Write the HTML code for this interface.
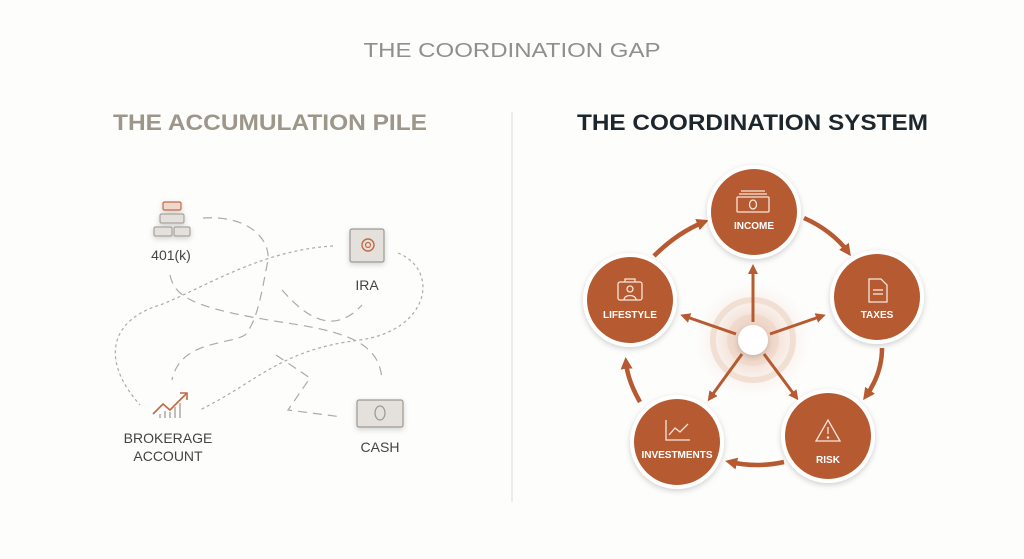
<!DOCTYPE html>
<html><head><meta charset="utf-8"><style>
html,body{margin:0;padding:0;background:#fdfdfc;}
svg{display:block;}
text{font-family:"Liberation Sans",sans-serif;}
</style></head><body>
<svg width="1024" height="559" viewBox="0 0 1024 559" xmlns="http://www.w3.org/2000/svg">
<defs>
<marker id="ah" markerWidth="10" markerHeight="10" refX="6" refY="5" orient="auto" markerUnits="userSpaceOnUse">
<path d="M0,0 L10,5 L0,10 Z" fill="#b65a31"/></marker>
<marker id="ah2" markerWidth="12" markerHeight="12" refX="7" refY="6" orient="auto" markerUnits="userSpaceOnUse">
<path d="M0,0 L12,6 L0,12 Z" fill="#b65a31"/></marker>
<radialGradient id="glow"><stop offset="0.3" stop-color="#efd6c8" stop-opacity="0.9"/><stop offset="1" stop-color="#f8ece5" stop-opacity="0"/></radialGradient>
<filter id="sh" x="-30%" y="-30%" width="160%" height="160%"><feDropShadow dx="0" dy="2" stdDeviation="3" flood-color="#000" flood-opacity="0.18"/></filter>
</defs>
<rect width="1024" height="559" fill="#fdfdfc"/>
<text x="512" y="57" text-anchor="middle" font-size="20" fill="#8f8f8f" textLength="297" lengthAdjust="spacingAndGlyphs">THE COORDINATION GAP</text>
<text x="113" y="130" font-size="22" font-weight="bold" fill="#9d968a" textLength="314" lengthAdjust="spacingAndGlyphs">THE ACCUMULATION PILE</text>
<text x="577" y="130" font-size="22" font-weight="bold" fill="#1d262c" textLength="351" lengthAdjust="spacingAndGlyphs">THE COORDINATION SYSTEM</text>
<line x1="512" y1="112" x2="512" y2="502" stroke="#e6e6e6" stroke-width="1.5"/>

<g fill="none" stroke="#ababab" stroke-width="1.2">
<path d="M203,218 C250,215 270,240 268,260 C262,290 258,320 245,335 C230,345 180,340 172,380" stroke-dasharray="9,6"/>
<path d="M170,275 C175,300 200,310 300,325 C360,335 380,350 382,380" stroke-dasharray="9,6"/>
<path d="M282,290 C300,310 330,340 362,305" stroke-dasharray="9,6"/>
<path d="M276,355 L310,378 L288,410 L342,417" stroke-dasharray="9,6"/>
<path d="M333,246 C260,250 200,290 160,305 C110,320 100,360 140,405" stroke-dasharray="3,3"/>
<path d="M398,253 C440,270 430,330 360,340 C280,350 260,380 200,410" stroke-dasharray="3,3"/>
</g>
<g filter="url(#sh)">
<rect x="163" y="202" width="18" height="8" rx="1.5" fill="#efd8cc" stroke="#c06a44" stroke-width="1.2"/>
<rect x="160" y="214" width="24" height="9" rx="1.5" fill="#e4e0dc" stroke="#a8a29c" stroke-width="1.2"/>
<rect x="154" y="227" width="18" height="9" rx="1.5" fill="#e4e0dc" stroke="#a8a29c" stroke-width="1.2"/>
<rect x="174" y="227" width="16" height="9" rx="1.5" fill="#e4e0dc" stroke="#a8a29c" stroke-width="1.2"/>
</g>
<text x="171" y="260" text-anchor="middle" font-size="14" fill="#444">401(k)</text>
<g filter="url(#sh)">
<rect x="350" y="229" width="34" height="33" rx="2" fill="#e4e0dc" stroke="#9e9892" stroke-width="1.2"/>
<circle cx="368" cy="245" r="6" fill="none" stroke="#c06a44" stroke-width="1.4"/>
<circle cx="368" cy="245" r="2.5" fill="none" stroke="#c06a44" stroke-width="1.2"/>
</g>
<text x="367" y="290" text-anchor="middle" font-size="14" fill="#444">IRA</text>
<polyline points="153,414 163,404 170,410 186,394" fill="none" stroke="#c06a44" stroke-width="1.6"/>
<path d="M180,393 L187,393 L187,400" fill="none" stroke="#c06a44" stroke-width="1.6"/>
<g stroke="#a8a29c" stroke-width="1.4"><line x1="160" y1="418" x2="160" y2="414"/><line x1="165" y1="418" x2="165" y2="411"/><line x1="170" y1="418" x2="170" y2="412"/><line x1="175" y1="418" x2="175" y2="407"/><line x1="180" y1="418" x2="180" y2="403"/></g>
<text x="168" y="443" text-anchor="middle" font-size="14" fill="#444">BROKERAGE</text>
<text x="168" y="461" text-anchor="middle" font-size="14" fill="#444">ACCOUNT</text>
<g filter="url(#sh)">
<rect x="357" y="400" width="46" height="27" rx="2" fill="#e4e0dc" stroke="#9e9892" stroke-width="1.2"/>
<ellipse cx="380" cy="413" rx="5" ry="7" fill="none" stroke="#9e9892" stroke-width="1.2"/>
</g>
<text x="380" y="452" text-anchor="middle" font-size="14" fill="#444">CASH</text>

<circle cx="753" cy="340" r="58" fill="url(#glow)"/>
<circle cx="753" cy="340" r="40" fill="none" stroke="#f1dfd4" stroke-width="6"/>
<circle cx="753" cy="340" r="26" fill="#ecd3c5" opacity="0.6"/>
<g stroke="#b65a31" stroke-width="3" marker-end="url(#ah)">
<line x1="753" y1="322" x2="753" y2="268"/>
<line x1="770" y1="334" x2="822" y2="316"/>
<line x1="764" y1="354" x2="796" y2="397"/>
<line x1="742" y1="354" x2="710" y2="398"/>
<line x1="736" y1="334" x2="684" y2="316"/>
</g>
<circle cx="753" cy="340" r="15" fill="#fff" filter="url(#sh)"/>
<g fill="none" stroke="#b65a31" stroke-width="4.5" marker-end="url(#ah2)">
<path d="M804,218 C822,226 838,238 848,252"/>
<path d="M882,348 C882,366 876,382 866,396"/>
<path d="M784,462 C766,466 748,466 730,462"/>
<path d="M640,402 C632,388 627,374 626,362"/>
<path d="M654,256 C668,242 684,230 704,222"/>
</g>
<g filter="url(#sh)">
<circle cx="754" cy="212" r="47" fill="#fff"/>
<circle cx="877" cy="297" r="47" fill="#fff"/>
<circle cx="828" cy="436" r="47" fill="#fff"/>
<circle cx="677" cy="442" r="47" fill="#fff"/>
<circle cx="630" cy="300" r="47" fill="#fff"/>
</g>
<g fill="#b65a31">
<circle cx="754" cy="212" r="43"/>
<circle cx="877" cy="297" r="43"/>
<circle cx="828" cy="436" r="43"/>
<circle cx="677" cy="442" r="43"/>
<circle cx="630" cy="300" r="43"/>
</g>
<g fill="none" stroke="#f6e6dc" stroke-width="1.3">
<rect x="737" y="197" width="32" height="15" rx="1"/>
<line x1="739" y1="194" x2="767" y2="194"/><line x1="741" y1="191" x2="765" y2="191"/>
<ellipse cx="753" cy="204.5" rx="3.5" ry="4.5"/>
<path d="M869,279 h12 l6,6 v17 h-18 z"/><line x1="873" y1="290" x2="883" y2="290"/><line x1="873" y1="294" x2="883" y2="294"/>
<path d="M828,420 L840,441 L816,441 Z"/><line x1="828" y1="427" x2="828" y2="434"/><circle cx="828" cy="437.5" r="0.6"/>
<path d="M666,420 v20 h24"/><polyline points="669,435 675,428 680,432 688,424"/>
<rect x="618" y="282" width="24" height="18" rx="2"/><path d="M625,282 v-3 h10 v3"/><circle cx="630" cy="289" r="3"/><path d="M624,300 c0,-6 12,-6 12,0"/>
</g>
<g fill="#fff" font-weight="bold" font-size="10" text-anchor="middle">
<text x="754" y="229">INCOME</text>
<text x="877" y="318">TAXES</text>
<text x="828" y="463">RISK</text>
<text x="677" y="458">INVESTMENTS</text>
<text x="630" y="318">LIFESTYLE</text>
</g>
</svg>
</body></html>
